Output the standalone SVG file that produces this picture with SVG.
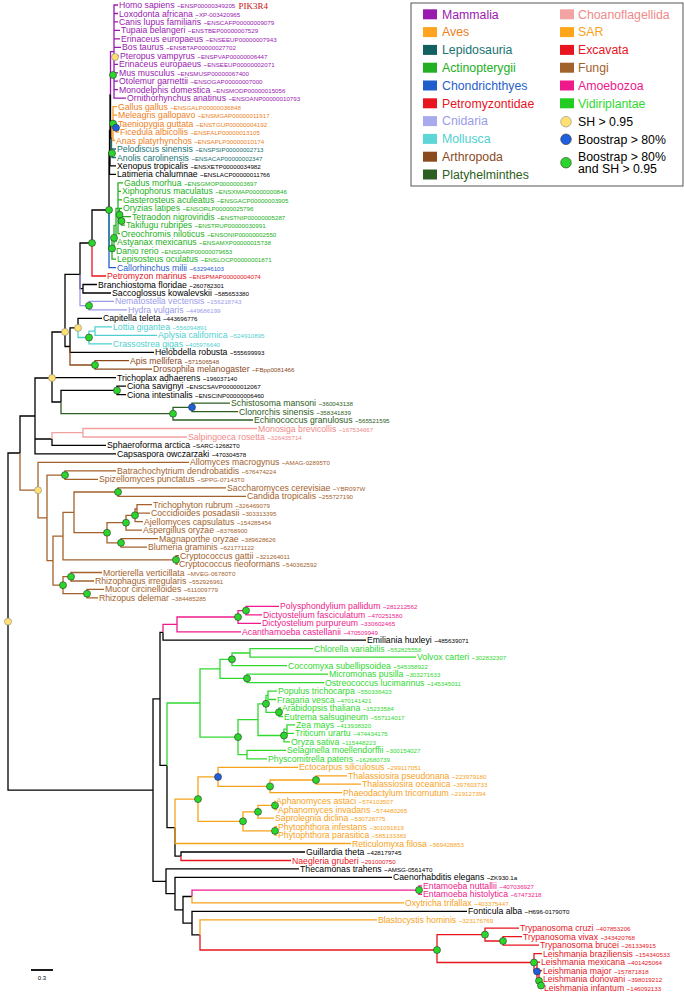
<svg xmlns="http://www.w3.org/2000/svg" width="684" height="992" viewBox="0 0 684 992">
<style>
.t{font-family:"Liberation Sans",Arial,sans-serif;font-size:8.7px}
.i{font-size:6.2px}
.lg{font-family:"Liberation Sans",Arial,sans-serif;font-size:12.3px}
path{fill:none;stroke-width:1.3}
.k{fill:#000}.ek{stroke:#000}
.pu{fill:#9a1ab0}.epu{stroke:#9a1ab0}
.or{fill:#ee7f1d}.eor{stroke:#f59a2a}
.te{fill:#177272}.ete{stroke:#177272}
.gr{fill:#22b022}.egr{stroke:#22b022}
.bl{fill:#1f5fcc}.ebl{stroke:#1f5fcc}
.rd{fill:#e8141e}.erd{stroke:#e8141e}
.lv{fill:#9b9bea}.elv{stroke:#9b9bea}
.cy{fill:#50d0d0}.ecy{stroke:#50d0d0}
.br{fill:#8b4a1e}.ebr{stroke:#8b4a1e}
.dg{fill:#2d5e22}.edg{stroke:#2d5e22}
.sa{fill:#f08a8a}.esa{stroke:#f3a0a0}
.fu{fill:#a3622c}.efu{stroke:#a3622c}
.pk{fill:#ee1a8c}.epk{stroke:#ee1a8c}
.vg{fill:#30d830}.evg{stroke:#30d830}
.sr{fill:#f7a21b}.esr{stroke:#f7a21b}
.cg{fill:#2ad62a;stroke:#333;stroke-width:0.6}
.cb{fill:#1f5fdd;stroke:#333;stroke-width:0.6}
.cyl{fill:#ffe070;stroke:#888;stroke-width:0.6}
</style>
<g id="connectors">
<path class="epu" d="M110.5,95V51.6H114M114,51.6V5H118M114,51.6V13.5H118M114,51.6V21.9H118M114,51.6V30.4H120M114,51.6V38.9H120M114,51.6V47.4H121M114,51.6V55.8H119M114,51.6V64.3H118M114,51.6V72.8H118M114,51.6V81.2H118M114,51.6V89.7H118M114,51.6V98.2H126"/>
<path class="eor" d="M111.5,138.4V123.6H113M113,123.6V106.6H117M113,123.6V115.1H117M113,123.6V127.8H116M116,127.8V123.6H117M116,127.8V132.1H119M113,123.6V140.5H115"/>
<path class="ete" d="M111.5,138.4V153.2H112M112,153.2V149H116M112,153.2V157.5H116"/>
<path class="ek" d="M110.5,95V138.4H111.5M110,130.5V95H110.5M110,130.5V165.9H116M109.5,152.4V130.5H110M109.5,152.4V174.4H116M109,210V152.4H109.5M92,243V210H109M80,274.4V243H92M80,274.4V288.7H83M83,288.7V284.5H97M83,288.7V293H111M65,332V274.4H80M78,327.9V318.4H102M65,332V346.5H70M70,346.5V327.9H78M70,346.5V352.3H154M52,378V332H65M52,378V377.7H116M52,378V402H61M61,402V390.4H117M117,390.4V386.2H126M117,390.4V394.6H126M52,439V445.4H106M35,416V378H52M35,416V439H52M35,416V453.9H116M20,453V416H35M8,621.6V453H20"/>
<path class="egr" d="M109,210V248.5H112M112,248.5V237.9H114M112,248.5V259.1H116M114,237.9V225.3H116M114,237.9V250.6H115M116,225.3V208.3H118M116,225.3V242.2H116M118,208.3V182.9H123M118,208.3V191.3H121M118,208.3V199.8H122M118,208.3V214.7H119.5M118,208.3V233.7H120M119.5,214.7V208.3H122M119.5,214.7V221H121.5M121.5,221V216.7H131M121.5,221V225.2H125"/>
<path class="ebl" d="M109,210V267.6H116"/>
<path class="erd" d="M92,243V276H106"/>
<path class="elv" d="M80,274.4V305.7H89M89,305.7V301.4H114M89,305.7V309.9H127"/>
<path class="ecy" d="M78,327.9V337.5H89M89,337.5V331.1H95M95,331.1V326.9H112M95,331.1V335.3H157M89,337.5V343.8H112"/>
<path class="ebr" d="M70,346.5V365H95M95,365V360.7H129M95,365V369.2H152"/>
<path class="edg" d="M61,402V413.7H173M173,413.7V407.3H192M192,407.3V403.1H230M192,407.3V411.6H238M173,413.7V420H253"/>
<path class="esa" d="M52,439V432.7H83M83,432.7V428.5H257M83,432.7V437H187"/>
<path class="efu" d="M20,453V490.2H38M38,490.2V462.4H189M38,490.2V517.9H47M47,517.9V475.1H65M65,475.1V470.9H116M65,475.1V479.3H98M47,517.9V560.6H53M53,560.6V536.1H63M63,536.1V512.4H74M74,512.4V492H118M118,492V487.8H226M118,492V496.3H246M74,512.4V532.7H107M107,532.7V522.7H126M126,522.7V515.3H135M135,515.3V509H137M137,509V504.7H152M137,509V513.2H150M135,515.3V521.7H143M126,522.7V530.1H142M107,532.7V542.8H121M121,542.8V538.6H158M121,542.8V547.1H147M63,536.1V559.8H176M176,559.8V555.6H179M176,559.8V564H178M53,560.6V585.2H63M63,585.2V576.7H71M71,576.7V572.5H102M71,576.7V581H94M63,585.2V593.7H87M87,593.7V589.4H104M87,593.7V597.9H98"/>
<path class="ek" d="M8,621.6V790.1H153M153,790.1V698.9H160M153,790.1V881.3H166M160,698.9V632.3H163M160,698.9V765.4H167M163,632.3V640.2H366M167,765.4V827.7H175M175,827.7V856.2H181M181,856.2V852H305M166,881.3V868.9H299M166,881.3V893.6H175M175,893.6V877.4H392M175,893.6V909.8H183M183,909.8V923.1H192M192,923.1V911.3H467M183,909.8V896.5H192M192,923.1V934.9H200"/>
<path class="epk" d="M163,632.3V624.4H177M177,624.4V617H238M238,617V610.6H246M246,610.6V606.4H279M246,610.6V614.8H262M238,617V623.3H261M177,624.4V631.8H241M192,896.5V890.1H419M419,890.1V885.9H422M419,890.1V894.4H422"/>
<path class="evg" d="M167,765.4V703H200M200,703V668.9H220M220,668.9V659.3H232M232,659.3V653H250M250,653V648.7H313M250,653V657.2H416M232,659.3V665.7H287M220,668.9V678.4H247M247,678.4V674.1H328M247,678.4V682.6H324M200,703V737.1H238M238,737.1V719.7H258M258,719.7V703.8H266M266,703.8V695.3H268M268,695.3V691.1H277M268,695.3V699.5H276M266,703.8V712.3H279M279,712.3V708H281M279,712.3V716.5H283M258,719.7V735.5H284M284,735.5V729.2H287M287,729.2V724.9H295M287,729.2V733.4H294M284,735.5V741.9H290M238,737.1V754.6H247M247,754.6V750.4H286M247,754.6V758.8H267"/>
<path class="esr" d="M175,827.7V799.1H198M198,799.1V776.9H218M218,776.9V767.3H298M218,776.9V786.4H270M270,786.4V780H316M316,780V775.8H347M316,780V784.2H361M270,786.4V792.7H342M198,799.1V821.3H243M243,821.3V811.8H258M258,811.8V805.4H275M275,805.4V801.2H275.5M275,805.4V809.6H277M258,811.8V818.1H274M243,821.3V830.9H275M275,830.9V826.6H277M275,830.9V835.1H277M175,827.7V843.5H351M192,896.5V902.8H404M200,934.9V919.8H377"/>
<path class="erd" d="M181,856.2V860.5H291M200,934.9V950H437M437,950V934.6H485M485,934.6V928.2H519M485,934.6V941H503M503,941V936.7H522M503,941V945.2H539M437,950V962.5H534M534,962.5V953.6H542M534,962.5V971.4H537M537,971.4V962.1H540M537,971.4V980.8H539M539,980.8V970.6H542M539,980.8V985.5H541M541,985.5V979H542M541,985.5V987.5H543"/>
</g>
<g id="support">
<circle class="cyl" cx="115" cy="57" r="3.5"/>
<circle class="cg" cx="113" cy="75" r="3.5"/>
<circle class="cg" cx="113" cy="123.6" r="3.5"/>
<circle class="cb" cx="116" cy="127.8" r="3.5"/>
<circle class="cg" cx="112" cy="153.2" r="3.5"/>
<circle class="cg" cx="109" cy="210" r="3.5"/>
<circle class="cg" cx="119.5" cy="214.7" r="3.5"/>
<circle class="cg" cx="121.5" cy="221" r="3.5"/>
<circle class="cg" cx="114" cy="237.9" r="3.5"/>
<circle class="cg" cx="112" cy="248.5" r="3.5"/>
<circle class="cg" cx="92" cy="243" r="3.5"/>
<circle class="cg" cx="89" cy="305.7" r="3.5"/>
<circle class="cyl" cx="78" cy="327.9" r="3.5"/>
<circle class="cyl" cx="65" cy="332" r="3.5"/>
<circle class="cg" cx="89" cy="337.5" r="3.5"/>
<circle class="cg" cx="95" cy="365" r="3.5"/>
<circle class="cyl" cx="52" cy="378" r="3.5"/>
<circle class="cg" cx="117" cy="390.4" r="3.5"/>
<circle class="cb" cx="192" cy="407.3" r="3.5"/>
<circle class="cg" cx="173" cy="413.7" r="3.5"/>
<circle class="cg" cx="65" cy="475.1" r="3.5"/>
<circle class="cyl" cx="38" cy="490.2" r="3.5"/>
<circle class="cg" cx="118" cy="492" r="3.5"/>
<circle class="cg" cx="135" cy="515.3" r="3.5"/>
<circle class="cg" cx="126" cy="522.7" r="3.5"/>
<circle class="cg" cx="107" cy="532.7" r="3.5"/>
<circle class="cg" cx="121" cy="542.8" r="3.5"/>
<circle class="cg" cx="176" cy="559.8" r="3.5"/>
<circle class="cg" cx="71" cy="576.7" r="3.5"/>
<circle class="cg" cx="63" cy="585.2" r="3.5"/>
<circle class="cg" cx="87" cy="593.7" r="3.5"/>
<circle class="cyl" cx="8" cy="621.6" r="3.5"/>
<circle class="cg" cx="246" cy="610.6" r="3.5"/>
<circle class="cg" cx="238" cy="617" r="3.5"/>
<circle class="cg" cx="232" cy="659.3" r="3.5"/>
<circle class="cg" cx="247" cy="678.4" r="3.5"/>
<circle class="cg" cx="266" cy="703.8" r="3.5"/>
<circle class="cg" cx="279" cy="712.3" r="3.5"/>
<circle class="cg" cx="284" cy="735.5" r="3.5"/>
<circle class="cg" cx="238" cy="737.1" r="3.5"/>
<circle class="cb" cx="218" cy="776.9" r="3.5"/>
<circle class="cg" cx="316" cy="780" r="3.5"/>
<circle class="cg" cx="270" cy="786.4" r="3.5"/>
<circle class="cg" cx="198" cy="799.1" r="3.5"/>
<circle class="cg" cx="275" cy="805.4" r="3.5"/>
<circle class="cg" cx="258" cy="811.8" r="3.5"/>
<circle class="cg" cx="243" cy="821.3" r="3.5"/>
<circle class="cg" cx="275" cy="830.9" r="3.5"/>
<circle class="cg" cx="419" cy="890.1" r="3.5"/>
<circle class="cg" cx="437" cy="950" r="3.5"/>
<circle class="cg" cx="485" cy="934.6" r="3.5"/>
<circle class="cg" cx="503" cy="941" r="3.5"/>
<circle class="cg" cx="534" cy="962.5" r="3.5"/>
<circle class="cb" cx="537" cy="971.4" r="3.5"/>
<circle class="cg" cx="539" cy="980.8" r="3.5"/>
<circle class="cg" cx="541" cy="985.5" r="3.5"/>
</g>
<g id="leaves">
<g id="leaf1"><text class="t pu" x="119" y="8">Homo sapiens <tspan class="i">~ENSP00000349205</tspan></text><text x="238.5" y="8.5" style="font-family:'Liberation Serif',serif;font-size:9px;fill:#c41010">PIK3R4</text></g>
<g id="leaf2"><text class="t pu" x="119" y="16.5">Loxodonta africana <tspan class="i">~XP-003420965</tspan></text></g>
<g id="leaf3"><text class="t pu" x="119" y="24.9">Canis lupus familiaris <tspan class="i">~ENSCAFP00000009079</tspan></text></g>
<g id="leaf4"><text class="t pu" x="121" y="33.4">Tupaia belangeri <tspan class="i">~ENSTBEP00000007529</tspan></text></g>
<g id="leaf5"><text class="t pu" x="121" y="41.9">Erinaceus europaeus <tspan class="i">~ENSEEUP00000007943</tspan></text></g>
<g id="leaf6"><text class="t pu" x="122" y="50.4">Bos taurus <tspan class="i">~ENSBTAP00000027702</tspan></text></g>
<g id="leaf7"><text class="t pu" x="120" y="58.8">Pteropus vampyrus <tspan class="i">~ENSPVAP00000006447</tspan></text></g>
<g id="leaf8"><text class="t pu" x="119" y="67.3">Erinaceus europaeus <tspan class="i">~ENSEEUP00000002071</tspan></text></g>
<g id="leaf9"><text class="t pu" x="119" y="75.8">Mus musculus <tspan class="i">~ENSMUSP00000067400</tspan></text></g>
<g id="leaf10"><text class="t pu" x="119" y="84.2">Otolemur garnettii <tspan class="i">~ENSOGAP00000007000</tspan></text></g>
<g id="leaf11"><text class="t pu" x="119" y="92.7">Monodelphis domestica <tspan class="i">~ENSMODP00000015056</tspan></text></g>
<g id="leaf12"><text class="t pu" x="127" y="101.2">Ornithorhynchus anatinus <tspan class="i">~ENSOANP00000010793</tspan></text></g>
<g id="leaf13"><text class="t or" x="118" y="109.6">Gallus gallus <tspan class="i">~ENSGALP00000036848</tspan></text></g>
<g id="leaf14"><text class="t or" x="118" y="118.1">Meleagris gallopavo <tspan class="i">~ENSMGAP00000011917</tspan></text></g>
<g id="leaf15"><text class="t or" x="118" y="126.6">Taeniopygia guttata <tspan class="i">~ENSTGUP00000004192</tspan></text></g>
<g id="leaf16"><text class="t or" x="120" y="135.1">Ficedula albicollis <tspan class="i">~ENSFALP00000013105</tspan></text></g>
<g id="leaf17"><text class="t or" x="116" y="143.5">Anas platyrhynchos <tspan class="i">~ENSAPLP00000010174</tspan></text></g>
<g id="leaf18"><text class="t te" x="117" y="152">Pelodiscus sinensis <tspan class="i">~ENSPSIP00000002713</tspan></text></g>
<g id="leaf19"><text class="t te" x="117" y="160.5">Anolis carolinensis <tspan class="i">~ENSACAP00000002347</tspan></text></g>
<g id="leaf20"><text class="t k" x="117" y="168.9">Xenopus tropicalis <tspan class="i">~ENSXETP00000034982</tspan></text></g>
<g id="leaf21"><text class="t k" x="117" y="177.4">Latimeria chalumnae <tspan class="i">~ENSLACP00000011766</tspan></text></g>
<g id="leaf22"><text class="t gr" x="124" y="185.9">Gadus morhua <tspan class="i">~ENSGMOP00000003697</tspan></text></g>
<g id="leaf23"><text class="t gr" x="122" y="194.3">Xiphophorus maculatus <tspan class="i">~ENSXMAP00000000846</tspan></text></g>
<g id="leaf24"><text class="t gr" x="123" y="202.8">Gasterosteus aculeatus <tspan class="i">~ENSGACP00000003905</tspan></text></g>
<g id="leaf25"><text class="t gr" x="123" y="211.3">Oryzias latipes <tspan class="i">~ENSORLP00000025796</tspan></text></g>
<g id="leaf26"><text class="t gr" x="132" y="219.7">Tetraodon nigroviridis <tspan class="i">~ENSTNIP00000005287</tspan></text></g>
<g id="leaf27"><text class="t gr" x="126" y="228.2">Takifugu rubripes <tspan class="i">~ENSTRUP00000030991</tspan></text></g>
<g id="leaf28"><text class="t gr" x="121" y="236.7">Oreochromis niloticus <tspan class="i">~ENSONIP00000002550</tspan></text></g>
<g id="leaf29"><text class="t gr" x="117" y="245.2">Astyanax mexicanus <tspan class="i">~ENSAMXP00000015738</tspan></text></g>
<g id="leaf30"><text class="t gr" x="116" y="253.6">Danio rerio <tspan class="i">~ENSDARP00000079653</tspan></text></g>
<g id="leaf31"><text class="t gr" x="117" y="262.1">Lepisosteus oculatus <tspan class="i">~ENSLOCP00000001871</tspan></text></g>
<g id="leaf32"><text class="t bl" x="117" y="270.6">Callorhinchus milii <tspan class="i">~632946103</tspan></text></g>
<g id="leaf33"><text class="t rd" x="107" y="279">Petromyzon marinus <tspan class="i">~ENSPMAP00000004074</tspan></text></g>
<g id="leaf34"><text class="t k" x="98" y="287.5">Branchiostoma floridae <tspan class="i">~260782301</tspan></text></g>
<g id="leaf35"><text class="t k" x="112" y="296">Saccoglossus kowalevskii <tspan class="i">~585653380</tspan></text></g>
<g id="leaf36"><text class="t lv" x="115" y="304.4">Nematostella vectensis <tspan class="i">~156218743</tspan></text></g>
<g id="leaf37"><text class="t lv" x="128" y="312.9">Hydra vulgaris <tspan class="i">~449686199</tspan></text></g>
<g id="leaf38"><text class="t k" x="103" y="321.4">Capitella teleta <tspan class="i">~443696776</tspan></text></g>
<g id="leaf39"><text class="t cy" x="113" y="329.9">Lottia gigantea <tspan class="i">~556094891</tspan></text></g>
<g id="leaf40"><text class="t cy" x="158" y="338.3">Aplysia californica <tspan class="i">~524910895</tspan></text></g>
<g id="leaf41"><text class="t cy" x="113" y="346.8">Crassostrea gigas <tspan class="i">~405976640</tspan></text></g>
<g id="leaf42"><text class="t k" x="155" y="355.3">Helobdella robusta <tspan class="i">~555699993</tspan></text></g>
<g id="leaf43"><text class="t br" x="130" y="363.7">Apis mellifera <tspan class="i">~571506548</tspan></text></g>
<g id="leaf44"><text class="t br" x="153" y="372.2">Drosophila melanogaster <tspan class="i">~FBpp0081466</tspan></text></g>
<g id="leaf45"><text class="t k" x="117" y="380.7">Trichoplax adhaerens <tspan class="i">~196037140</tspan></text></g>
<g id="leaf46"><text class="t k" x="127" y="389.2">Ciona savignyi <tspan class="i">~ENSCSAVP00000012067</tspan></text></g>
<g id="leaf47"><text class="t k" x="127" y="397.6">Ciona intestinalis <tspan class="i">~ENSCINP00000006460</tspan></text></g>
<g id="leaf48"><text class="t dg" x="231" y="406.1">Schistosoma mansoni <tspan class="i">~360043138</tspan></text></g>
<g id="leaf49"><text class="t dg" x="239" y="414.6">Clonorchis sinensis <tspan class="i">~358341839</tspan></text></g>
<g id="leaf50"><text class="t dg" x="254" y="423">Echinococcus granulosus <tspan class="i">~565521595</tspan></text></g>
<g id="leaf51"><text class="t sa" x="258" y="431.5">Monosiga brevicollis <tspan class="i">~167534667</tspan></text></g>
<g id="leaf52"><text class="t sa" x="188" y="440">Salpingoeca rosetta <tspan class="i">~326435714</tspan></text></g>
<g id="leaf53"><text class="t k" x="107" y="448.4">Sphaeroforma arctica <tspan class="i">~SARC-12682T0</tspan></text></g>
<g id="leaf54"><text class="t k" x="117" y="456.9">Capsaspora owczarzaki <tspan class="i">~470304578</tspan></text></g>
<g id="leaf55"><text class="t fu" x="190" y="465.4">Allomyces macrogynus <tspan class="i">~AMAG-02895T0</tspan></text></g>
<g id="leaf56"><text class="t fu" x="117" y="473.9">Batrachochytrium dendrobatidis <tspan class="i">~676474224</tspan></text></g>
<g id="leaf57"><text class="t fu" x="99" y="482.3">Spizellomyces punctatus <tspan class="i">~SPPG-07143T0</tspan></text></g>
<g id="leaf58"><text class="t fu" x="227" y="490.8">Saccharomyces cerevisiae <tspan class="i">~YBR097W</tspan></text></g>
<g id="leaf59"><text class="t fu" x="247" y="499.3">Candida tropicalis <tspan class="i">~255727190</tspan></text></g>
<g id="leaf60"><text class="t fu" x="153" y="507.7">Trichophyton rubrum <tspan class="i">~326469079</tspan></text></g>
<g id="leaf61"><text class="t fu" x="151" y="516.2">Coccidioides posadasii <tspan class="i">~303313395</tspan></text></g>
<g id="leaf62"><text class="t fu" x="144" y="524.7">Ajellomyces capsulatus <tspan class="i">~154285454</tspan></text></g>
<g id="leaf63"><text class="t fu" x="143" y="533.1">Aspergillus oryzae <tspan class="i">~83768900</tspan></text></g>
<g id="leaf64"><text class="t fu" x="159" y="541.6">Magnaporthe oryzae <tspan class="i">~389628626</tspan></text></g>
<g id="leaf65"><text class="t fu" x="148" y="550.1">Blumeria graminis <tspan class="i">~621771122</tspan></text></g>
<g id="leaf66"><text class="t fu" x="180" y="558.6">Cryptococcus gattii <tspan class="i">~321264011</tspan></text></g>
<g id="leaf67"><text class="t fu" x="179" y="567">Cryptococcus neoformans <tspan class="i">~540362592</tspan></text></g>
<g id="leaf68"><text class="t fu" x="103" y="575.5">Mortierella verticillata <tspan class="i">~MVEG-06780T0</tspan></text></g>
<g id="leaf69"><text class="t fu" x="95" y="584">Rhizophagus irregularis <tspan class="i">~552926961</tspan></text></g>
<g id="leaf70"><text class="t fu" x="105" y="592.4">Mucor circinelloides <tspan class="i">~611009779</tspan></text></g>
<g id="leaf71"><text class="t fu" x="99" y="600.9">Rhizopus delemar <tspan class="i">~384485285</tspan></text></g>
<g id="leaf72"><text class="t pk" x="280" y="609.4">Polysphondylium pallidum <tspan class="i">~281212562</tspan></text></g>
<g id="leaf73"><text class="t pk" x="263" y="617.8">Dictyostelium fasciculatum <tspan class="i">~470251580</tspan></text></g>
<g id="leaf74"><text class="t pk" x="262" y="626.3">Dictyostelium purpureum <tspan class="i">~330602465</tspan></text></g>
<g id="leaf75"><text class="t pk" x="242" y="634.8">Acanthamoeba castellanii <tspan class="i">~470509949</tspan></text></g>
<g id="leaf76"><text class="t k" x="367" y="643.2">Emiliania huxleyi <tspan class="i">~485639071</tspan></text></g>
<g id="leaf77"><text class="t vg" x="314" y="651.7">Chlorella variabilis <tspan class="i">~552825558</tspan></text></g>
<g id="leaf78"><text class="t vg" x="417" y="660.2">Volvox carteri <tspan class="i">~302832307</tspan></text></g>
<g id="leaf79"><text class="t vg" x="288" y="668.7">Coccomyxa subellipsoidea <tspan class="i">~545358922</tspan></text></g>
<g id="leaf80"><text class="t vg" x="329" y="677.1">Micromonas pusilla <tspan class="i">~303271633</tspan></text></g>
<g id="leaf81"><text class="t vg" x="325" y="685.6">Ostreococcus lucimarinus <tspan class="i">~145345011</tspan></text></g>
<g id="leaf82"><text class="t vg" x="278" y="694.1">Populus trichocarpa <tspan class="i">~550336423</tspan></text></g>
<g id="leaf83"><text class="t vg" x="277" y="702.5">Fragaria vesca <tspan class="i">~470141421</tspan></text></g>
<g id="leaf84"><text class="t vg" x="282" y="711">Arabidopsis thaliana <tspan class="i">~15233584</tspan></text></g>
<g id="leaf85"><text class="t vg" x="284" y="719.5">Eutrema salsugineum <tspan class="i">~557114017</tspan></text></g>
<g id="leaf86"><text class="t vg" x="296" y="727.9">Zea mays <tspan class="i">~413938320</tspan></text></g>
<g id="leaf87"><text class="t vg" x="295" y="736.4">Triticum urartu <tspan class="i">~474434175</tspan></text></g>
<g id="leaf88"><text class="t vg" x="291" y="744.9">Oryza sativa <tspan class="i">~115448223</tspan></text></g>
<g id="leaf89"><text class="t vg" x="287" y="753.4">Selaginella moellendorffii <tspan class="i">~300154027</tspan></text></g>
<g id="leaf90"><text class="t vg" x="268" y="761.8">Physcomitrella patens <tspan class="i">~162680739</tspan></text></g>
<g id="leaf91"><text class="t sr" x="299" y="770.3">Ectocarpus siliculosus <tspan class="i">~299117051</tspan></text></g>
<g id="leaf92"><text class="t sr" x="348" y="778.8">Thalassiosira pseudonana <tspan class="i">~223979180</tspan></text></g>
<g id="leaf93"><text class="t sr" x="362" y="787.2">Thalassiosira oceanica <tspan class="i">~397603733</tspan></text></g>
<g id="leaf94"><text class="t sr" x="343" y="795.7">Phaeodactylum tricornutum <tspan class="i">~219127394</tspan></text></g>
<g id="leaf95"><text class="t sr" x="276" y="804.2">Aphanomyces astaci <tspan class="i">~574103507</tspan></text></g>
<g id="leaf96"><text class="t sr" x="278" y="812.6">Aphanomyces invadans <tspan class="i">~574480265</tspan></text></g>
<g id="leaf97"><text class="t sr" x="275" y="821.1">Saprolegnia diclina <tspan class="i">~530726775</tspan></text></g>
<g id="leaf98"><text class="t sr" x="278" y="829.6">Phytophthora infestans <tspan class="i">~301091819</tspan></text></g>
<g id="leaf99"><text class="t sr" x="278" y="838.1">Phytophthora parasitica <tspan class="i">~585133383</tspan></text></g>
<g id="leaf100"><text class="t sr" x="352" y="846.5">Reticulomyxa filosa <tspan class="i">~569428853</tspan></text></g>
<g id="leaf101"><text class="t k" x="306" y="855">Guillardia theta <tspan class="i">~428179745</tspan></text></g>
<g id="leaf102"><text class="t rd" x="292" y="863.5">Naegleria gruberi <tspan class="i">~291000750</tspan></text></g>
<g id="leaf103"><text class="t k" x="300" y="871.9">Thecamonas trahens <tspan class="i">~AMSG-05614T0</tspan></text></g>
<g id="leaf104"><text class="t k" x="393" y="880.4">Caenorhabditis elegans <tspan class="i">~ZK930.1a</tspan></text></g>
<g id="leaf105"><text class="t pk" x="423" y="888.9">Entamoeba nuttallii <tspan class="i">~407036927</tspan></text></g>
<g id="leaf106"><text class="t pk" x="423" y="897.4">Entamoeba histolytica <tspan class="i">~67473218</tspan></text></g>
<g id="leaf107"><text class="t sr" x="405" y="905.8">Oxytricha trifallax <tspan class="i">~403375447</tspan></text></g>
<g id="leaf108"><text class="t k" x="468" y="914.3">Fonticula alba <tspan class="i">~H696-01790T0</tspan></text></g>
<g id="leaf109"><text class="t sr" x="378" y="922.8">Blastocystis hominis <tspan class="i">~323176769</tspan></text></g>
<g id="leaf110"><text class="t rd" x="520" y="931.2">Trypanosoma cruzi <tspan class="i">~407853206</tspan></text></g>
<g id="leaf111"><text class="t rd" x="523" y="939.7">Trypanosoma vivax <tspan class="i">~343420768</tspan></text></g>
<g id="leaf112"><text class="t rd" x="540" y="948.2">Trypanosoma brucei <tspan class="i">~261334915</tspan></text></g>
<g id="leaf113"><text class="t rd" x="543" y="956.6">Leishmania braziliensis <tspan class="i">~154340533</tspan></text></g>
<g id="leaf114"><text class="t rd" x="541" y="965.1">Leishmania mexicana <tspan class="i">~401425064</tspan></text></g>
<g id="leaf115"><text class="t rd" x="543" y="973.6">Leishmania major <tspan class="i">~157871818</tspan></text></g>
<g id="leaf116"><text class="t rd" x="543" y="982">Leishmania donovani <tspan class="i">~398019212</tspan></text></g>
<g id="leaf117"><text class="t rd" x="544" y="990.5">Leishmania infantum <tspan class="i">~146092133</tspan></text></g>
</g>
<g id="scale">
<line x1="31" y1="970" x2="53" y2="970" stroke="#000" stroke-width="1.8"/>
<text class="t" x="42" y="979.5" text-anchor="middle" style="font-size:6px">0.3</text>
</g>
<g id="legend">
<rect x="411" y="3" width="272" height="183" fill="#fff" stroke="#555" stroke-width="1"/>
<rect x="423" y="9.3" width="14" height="10" fill="#9a1ab0"/><text class="lg pu" x="442" y="18.6">Mammalia</text>
<rect x="423" y="27.1" width="14" height="10" fill="#ffa321"/><text class="lg or" x="442" y="36.4">Aves</text>
<rect x="423" y="44.9" width="14" height="10" fill="#126060"/><text class="lg te" x="442" y="54.2">Lepidosauria</text>
<rect x="423" y="62.7" width="14" height="10" fill="#22b022"/><text class="lg gr" x="442" y="72">Actinopterygii</text>
<rect x="423" y="80.5" width="14" height="10" fill="#1f5fcc"/><text class="lg bl" x="442" y="89.8">Chondrichthyes</text>
<rect x="423" y="98.3" width="14" height="10" fill="#e8141e"/><text class="lg rd" x="442" y="107.6">Petromyzontidae</text>
<rect x="423" y="116.1" width="14" height="10" fill="#a9a9ee"/><text class="lg lv" x="442" y="125.4">Cnidaria</text>
<rect x="423" y="133.9" width="14" height="10" fill="#5cd6d6"/><text class="lg cy" x="442" y="143.2">Mollusca</text>
<rect x="423" y="151.7" width="14" height="10" fill="#8b4a1e"/><text class="lg br" x="442" y="161">Arthropoda</text>
<rect x="423" y="169.5" width="14" height="10" fill="#2d5e22"/><text class="lg dg" x="442" y="178.8">Platyhelminthes</text>
<rect x="560" y="9.3" width="14" height="10" fill="#f4a3a3"/><text class="lg sa" x="578" y="18.6">Choanoflagellida</text>
<rect x="560" y="27.1" width="14" height="10" fill="#ffa51a"/><text class="lg sr" x="578" y="36.4">SAR</text>
<rect x="560" y="44.9" width="14" height="10" fill="#e8141e"/><text class="lg rd" x="578" y="54.2">Excavata</text>
<rect x="560" y="62.7" width="14" height="10" fill="#a3622c"/><text class="lg fu" x="578" y="72">Fungi</text>
<rect x="560" y="80.5" width="14" height="10" fill="#ee1a8c"/><text class="lg pk" x="578" y="89.8">Amoebozoa</text>
<rect x="560" y="98.3" width="14" height="10" fill="#22cc22"/><text class="lg vg" x="578" y="107.6">Vidiriplantae</text>
<circle class="cyl" cx="566" cy="121.7" r="5.3"/><text class="lg k" x="578" y="126">SH &gt; 0.95</text>
<circle class="cb" cx="566" cy="139.3" r="5.3"/><text class="lg k" x="578" y="143.6">Boostrap &gt; 80%</text>
<circle class="cg" cx="566" cy="162.7" r="5.3"/><text class="lg k" x="578" y="160.5">Boostrap &gt; 80%</text><text class="lg k" x="578" y="173">and SH &gt; 0.95</text>
</g>
</svg>
